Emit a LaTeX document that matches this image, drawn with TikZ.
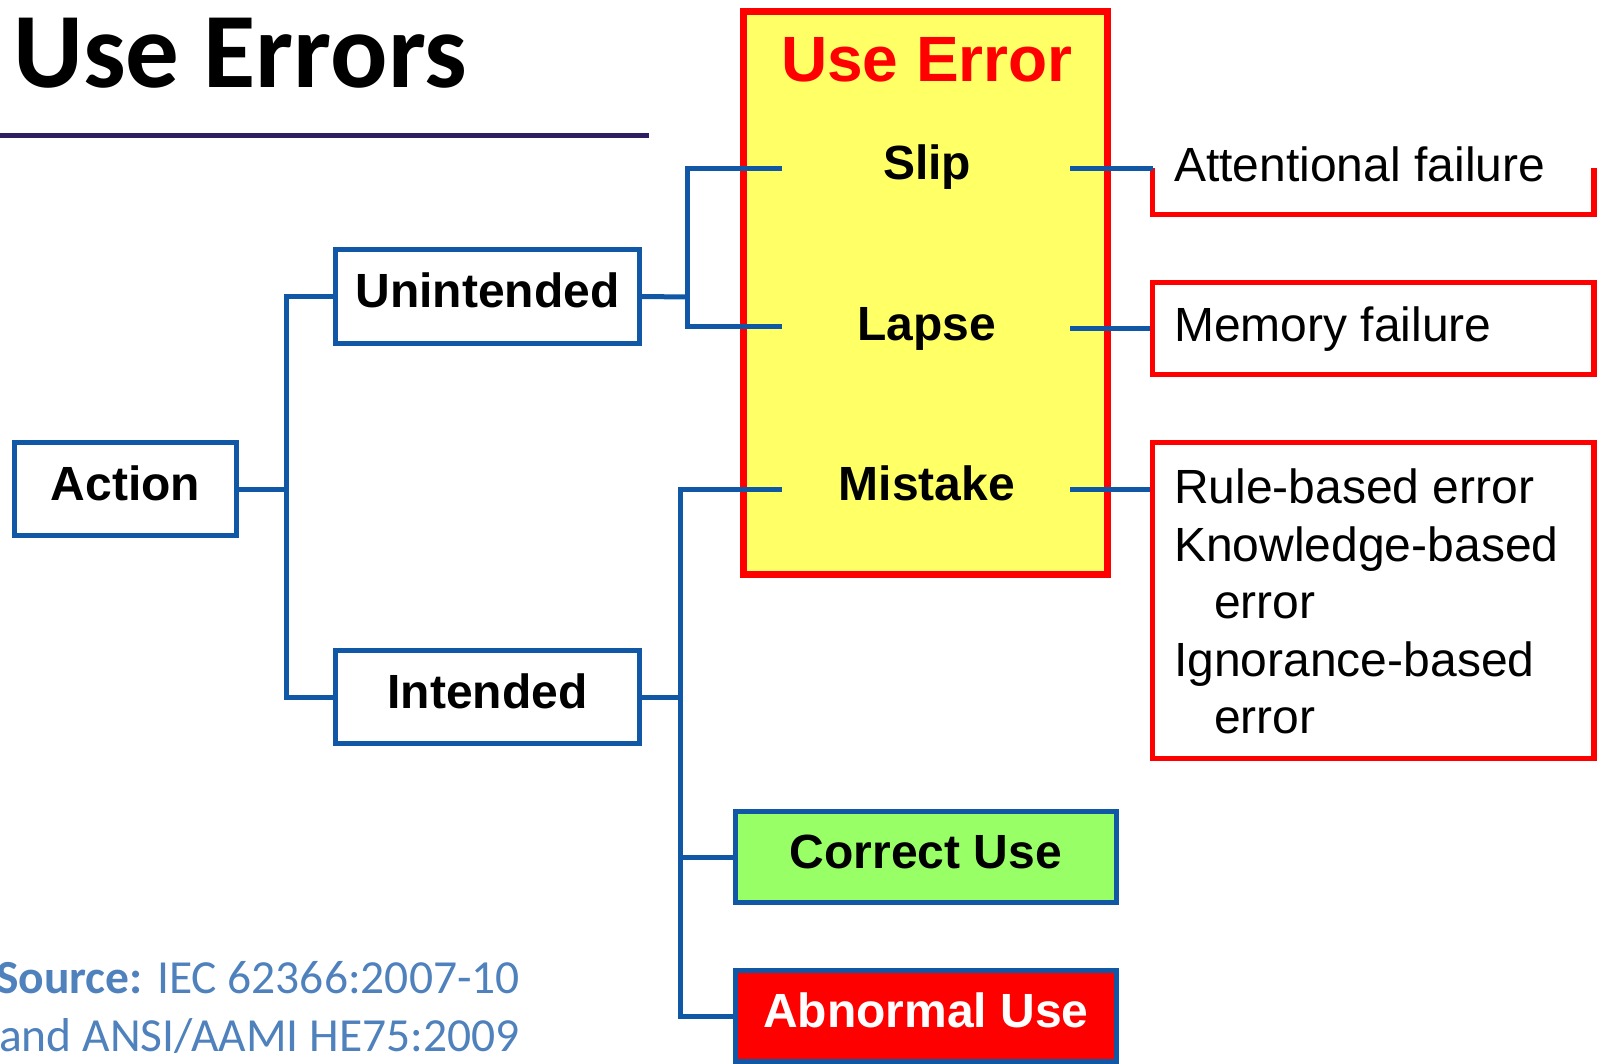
\documentclass[tikz,border=0pt]{standalone}
\usepackage{fontspec}
\setmainfont{Liberation Sans}
\newfontfamily\calibri{Carlito}
\definecolor{lineblue}{RGB}{16,88,166}
\definecolor{uyellow}{RGB}{255,255,102}
\definecolor{ugreen}{RGB}{153,255,102}
\definecolor{ured}{RGB}{255,0,0}
\definecolor{titlepurple}{RGB}{48,28,96}
\definecolor{srcblue}{RGB}{79,129,189}
\begin{document}
\begin{tikzpicture}[x=1pt,y=-1pt,
  bluebox/.style={draw=lineblue, line width=5pt, fill=white, inner sep=0pt,
    font=\fontsize{48}{56}\selectfont\bfseries, text height=34pt, text depth=12pt},
  conn/.style={draw=lineblue, line width=5pt},
  redline/.style={draw=ured, line width=5.5pt},
  lbl/.style={inner sep=0pt, font=\fontsize{48}{56}\selectfont\bfseries, text height=34pt, text depth=0pt},
  rtext/.style={inner sep=0pt, anchor=base west, font=\fontsize{48}{56}\selectfont},
  src/.style={inner sep=0pt, anchor=base west, text=srcblue, font=\calibri\fontsize{47.5}{56}\selectfont}]
\useasboundingbox (0,0) rectangle (1597,1063);
\clip (0,0) rectangle (1597,1063);

% title
\node[inner sep=0pt, anchor=base west, font=\calibri\bfseries\fontsize{107}{120}\selectfont] (title) at (13,87) {Use Errors};
\draw[line width=5pt, titlepurple] (0,135.5) -- (649,135.5);

% yellow Use Error box
\node[draw=ured, line width=7pt, fill=uyellow, inner sep=0pt, minimum width=364pt, minimum height=563pt] (useerr) at (925,293) {};
\node[inner sep=0pt, text=ured, font=\fontsize{64}{72}\selectfont\bfseries, text height=46pt, text depth=0pt] (uetitle) at (927,58) {Use Error};
\node[lbl] (slip) at (927,162) {Slip};
\node[lbl] (lapse) at (927,323) {Lapse};
\node[lbl] (mistake) at (927,483) {Mistake};

% blue boxes
\node[bluebox, minimum width=222pt, minimum height=93pt] (action) at (125.5,489) {Action};
\node[bluebox, minimum width=304pt, minimum height=94pt] (unint) at (487.5,296.5) {Unintended};
\node[bluebox, minimum width=304pt, minimum height=93pt] (intended) at (487.5,697) {Intended};
\node[bluebox, fill=ugreen, minimum width=381pt, minimum height=91pt] (correct) at (926,857) {Correct Use};
\node[bluebox, fill=ured, text=white, minimum width=381pt, minimum height=91pt] (abnormal) at (926,1016) {Abnormal Use};

% connector coordinates
\coordinate (j1) at (286,489);
\coordinate (j2) at (687,297);
\coordinate (j3) at (680,697);
\coordinate (slipL) at (782,168);
\coordinate (lapseL) at (782,326);
\coordinate (mistL) at (782,489);
\coordinate (slipR) at (1070,168);
\coordinate (lapseR) at (1070,328);
\coordinate (mistR) at (1070,489);

% right red boxes
\draw[redline] (1152.5,168) |- (1594,214.5) -- (1594,168);
\coordinate (attL) at (1152.5,168);
\node[rtext] (att) at (1174,181) {Attentional failure};
\node[draw=ured, line width=5.5pt, inner sep=0pt, minimum width=441.5pt, minimum height=92pt] (mem) at (1373.25,328.5) {};
\node[rtext] (memtext) at (1174,341) {Memory failure};
\node[draw=ured, line width=5.5pt, inner sep=0pt, minimum width=441.5pt, minimum height=316pt] (rule) at (1373.25,600.5) {};
\node[rtext] (r1) at (1174,503) {Rule-based error};
\node[rtext] (r2) at (1174,561) {Knowledge-based};
\node[rtext] (r3) at (1214,618) {error};
\node[rtext] (r4) at (1174,676) {Ignorance-based};
\node[rtext] (r5) at (1214,733) {error};

% connectors
\draw[conn] (action.east) -- (j1);
\draw[conn] (unint.west) -| (j1);
\draw[conn] (intended.west) -| (j1);
\draw[conn] (unint.east) -- (j2);
\draw[conn] (slipL) -| (j2);
\draw[conn] (lapseL) -| (j2);
\draw[conn] (intended.east) -- (j3);
\draw[conn] (mistL) -| (j3);
\draw[conn] (correct.west) -| (j3);
\draw[conn] (abnormal.west) -| (j3);
\draw[conn] (slipR) -- (attL);
\draw[conn] (lapseR) -- (lapseR -| mem.west);
\draw[conn] (mistR) -- (mistR -| rule.west);

% source
\node[src] (src1) at (-4,993) {\textbf{Source:} IEC 62366:2007-10};
\node[src] (src2) at (-1,1051) {and ANSI/AAMI HE75:2009};
\end{tikzpicture}
\end{document}
